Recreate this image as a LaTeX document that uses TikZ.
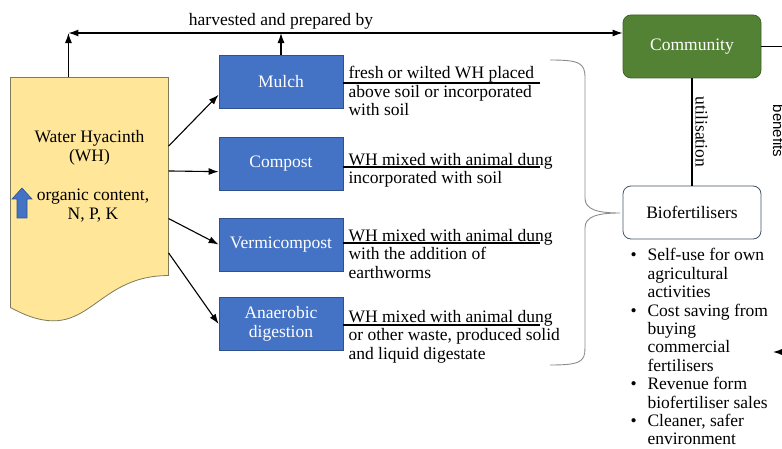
\documentclass[tikz,border=0pt]{standalone}
\usepackage{fontspec}
\setmainfont{Liberation Serif}
\setsansfont{Liberation Sans}
\usepackage{tikz}
\usetikzlibrary{calc,arrows.meta}
\definecolor{whyellow}{HTML}{FFE699}
\definecolor{whborder}{HTML}{7C7C5C}
\definecolor{methodblue}{HTML}{4472C4}
\definecolor{methodborder}{HTML}{2F528F}
\definecolor{communitygreen}{HTML}{548235}
\definecolor{communityborder}{HTML}{3F6428}
\definecolor{bioborder}{HTML}{44546A}
\definecolor{bracegray}{HTML}{8C8C8C}
\newcommand{\listbullet}{\makebox[19pt][l]{\hspace{2pt}\textbullet}}
\newcommand{\listindent}{\hspace*{19pt}}
\tikzset{
  % Node styles: the four methods, their notes and the two actors
  method node/.style={rectangle,draw=methodborder,fill=methodblue,text=white,minimum width=124,minimum height=53,align=center,line width=0.8},
  desc node/.style={anchor=north west,align=left,inner sep=0},
  actor node/.style={rectangle,rounded corners=8,draw=communityborder,fill=communitygreen,text=white,minimum width=138,minimum height=63,line width=0.8},
  bio node/.style={rectangle,rounded corners=8,draw=bioborder,fill=white,minimum width=138,minimum height=53,line width=0.8},
  wh shape/.style={draw=whborder,fill=whyellow,line width=0.8},
  up arrow/.style={draw=methodborder,fill=methodblue,line width=0.6},
  brace line/.style={draw=bracegray,line width=0.9}
}

\begin{document}
\begin{tikzpicture}[x=1pt,y=-1pt,>={Latex[length=10pt,width=7pt]},line width=1.1,font=\fontsize{17.5}{18.8}\selectfont]
  \useasboundingbox (0,0) rectangle (782,449);
  % Water hyacinth: document shape round an empty node
  \node(wh)[minimum width=157,minimum height=197,inner sep=0] at (89.5,176.5) {};
  \draw[wh shape] (wh.north west) -- (wh.north east) -- (wh.south east)
    .. controls (wh.south) and ($(wh.south)+(0,75)$) .. ($(wh.south west)+(0,32)$) -- cycle;
  \node(whname)[align=center] at (89.5,148) {Water Hyacinth\\(WH)};
  \node(whnutr)[align=center] at (93,205.5) {organic content,\\N, P, K};
  \coordinate(uptip) at (22,188);
  \draw[up arrow] (uptip) -- ++(10,11) -- ++(-5,0) -- ++(0,19) -- ++(-10,0) -- ++(0,-19) -- ++(-5,0) -- cycle;
  % The methods
  \node(mulch)[method node] at (281,81.5) {Mulch};
  \node(compost)[method node] at (281,164) {Compost};
  \node(vermi)[method node] at (281,244.5) {Vermicompost};
  \node(anaerobic)[method node] at (281,324) {Anaerobic\\digestion};
  \draw[->] (wh.21) -- (mulch.192);
  \draw[->] (wh.4) -- (compost.187);
  \draw[->] (wh.-28) -- (vermi.west);
  \draw[->] (wh.-44) -- (anaerobic.west);
  % notes on each method
  \coordinate(lineend) at (540,0);
  \node(mulchtext)[desc node] at (348,65.5) {fresh or wilted WH placed\\above soil or incorporated\\with soil};
  \node(composttext)[desc node] at (348,152.5) {WH mixed with animal dung\\incorporated with soil};
  \node(vermitext)[desc node] at (348,228.5) {WH mixed with animal dung\\with the addition of\\earthworms};
  \node(anaerobictext)[desc node] at (348,309.5) {WH mixed with animal dung\\or other waste, produced solid\\and liquid digestate};
  \draw ($(mulch.east)+(0,1.5)$) -- ($(mulch.east -| lineend)+(0,1.5)$);
  \draw ($(compost.east)+(0,3)$) -- ($(compost.east -| lineend)+(0,3)$);
  \draw ($(vermi.east)+(0,-1.5)$) -- ($(vermi.east -| lineend)+(0,-1.5)$);
  \draw ($(anaerobic.east)+(0,1)$) -- ($(anaerobic.east -| lineend)+(0,1)$);
  % harvesting by the community
  \node(community)[actor node] at (692,46.5) {Community};
  \coordinate(corner) at (wh.102 |- community.169);
  \draw[->] (wh.102) -- (corner);
  \draw[<->] (corner) -- (community.169);
  \draw[->] (mulch.north) -- (mulch.north |- corner);
  \node(harvest)[above] at (mulch.north |- corner) {harvested and prepared by};
  % brace to biofertilisers
  \coordinate(bracetop) at (550,60);
  \coordinate(bracetip) at (620,213);
  \coordinate(bracebottom) at (550,365);
  \draw[brace line] (bracetop) .. controls (580,60) and (585,63) .. (585,78) -- (585,198)
    .. controls (585,209) and (596,213) .. (bracetip)
    .. controls (596,213) and (585,217) .. (585,228) -- (585,348)
    .. controls (585,362) and (580,365) .. (bracebottom);
  \node(bio)[bio node] at (692,212.5) {Biofertilisers};
  \draw (community.south) -- node[rotate=-90,anchor=south,inner sep=3]{utilisation} (bio.north);
  \node(uses)[desc node,font=\fontsize{17.5}{18.4}\selectfont] at (628,248) {\listbullet Self-use for own\\\listindent agricultural\\\listindent activities\\\listbullet Cost saving from\\\listindent buying\\\listindent commercial\\\listindent fertilisers\\\listbullet Revenue form\\\listindent biofertiliser sales\\\listbullet Cleaner, safer\\\listindent environment};
  % benefits, cut by the right edge
  \coordinate(rightout) at (800,0);
  \draw (community.east) -- (community.east -| rightout);
  \node(benefits)[rotate=-90,anchor=base,inner sep=0,font=\sffamily\fontsize{15}{18}\selectfont] at (773,131) {benefits};
  \coordinate(benefitsin) at (800,352);
  \coordinate(benefitsend) at (773,352);
  \draw[->] (benefitsin) -- (benefitsend);
\end{tikzpicture}
\end{document}
